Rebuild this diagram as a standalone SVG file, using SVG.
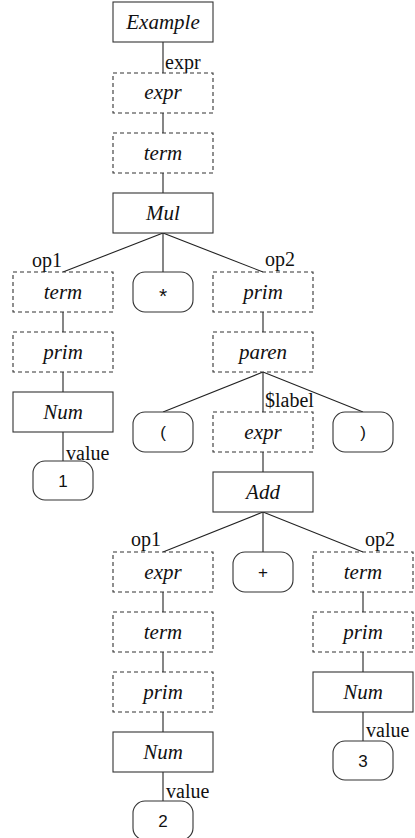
<svg xmlns="http://www.w3.org/2000/svg" width="415" height="838" viewBox="0 0 415 838">
<style>
.b{fill:#fff;stroke:#333;stroke-width:1.1}
.d{fill:#fff;stroke:#333;stroke-width:1.1;stroke-dasharray:4 3}
.t{font-family:"Liberation Serif",serif;font-style:italic;font-size:21px;text-anchor:middle;fill:#111}
.k{font-family:"Liberation Sans",sans-serif;font-size:17px;text-anchor:middle;fill:#111}
.l{font-family:"Liberation Serif",serif;font-size:20px;fill:#111}
.c line{stroke:#222;stroke-width:1.1}
</style>
<rect width="415" height="838" fill="#fff"/>
<g class="c" id="connectors">
<line x1="163" y1="42" x2="163" y2="73"/>
<line x1="163" y1="113" x2="163" y2="133"/>
<line x1="163" y1="173" x2="163" y2="193"/>
<line x1="163" y1="233" x2="63" y2="272"/>
<line x1="163" y1="233" x2="163" y2="272"/>
<line x1="163" y1="233" x2="263" y2="272"/>
<line x1="63" y1="312" x2="63" y2="332"/>
<line x1="63" y1="372" x2="63" y2="392"/>
<line x1="63" y1="432" x2="63" y2="461"/>
<line x1="263" y1="312" x2="263" y2="332"/>
<line x1="263" y1="372" x2="163" y2="412"/>
<line x1="263" y1="372" x2="263" y2="412"/>
<line x1="263" y1="372" x2="363" y2="412"/>
<line x1="263" y1="452" x2="263" y2="472"/>
<line x1="263" y1="512" x2="163" y2="552"/>
<line x1="263" y1="512" x2="263" y2="552"/>
<line x1="263" y1="512" x2="363" y2="552"/>
<line x1="163" y1="592" x2="163" y2="612"/>
<line x1="163" y1="652" x2="163" y2="672"/>
<line x1="163" y1="712" x2="163" y2="732"/>
<line x1="163" y1="772" x2="163" y2="801"/>
<line x1="363" y1="592" x2="363" y2="612"/>
<line x1="363" y1="652" x2="363" y2="672"/>
<line x1="363" y1="712" x2="363" y2="741"/>
<text class="l" x="165" y="69">expr</text>
<text class="l" x="62" y="267" text-anchor="end">op1</text>
<text class="l" x="265" y="266">op2</text>
<text class="l" x="66" y="460">value</text>
<text class="l" x="265" y="407">$label</text>
<text class="l" x="161" y="546" text-anchor="end">op1</text>
<text class="l" x="365" y="546">op2</text>
<text class="l" x="366" y="737">value</text>
<text class="l" x="166" y="798">value</text>
</g>
<g id="n-example"><rect class="b" x="113" y="2" width="100" height="40"/><text class="t" x="163" y="29">Example</text></g>
<g id="n-expr1"><rect class="d" x="113" y="73" width="100" height="40"/><text class="t" x="163" y="99">expr</text></g>
<g id="n-term1"><rect class="d" x="113" y="133" width="100" height="40"/><text class="t" x="163" y="160">term</text></g>
<g id="n-mul"><rect class="b" x="113" y="193" width="100" height="40"/><text class="t" x="163" y="220">Mul</text></g>
<g id="n-term2"><rect class="d" x="13" y="272" width="100" height="40"/><text class="t" x="63" y="299">term</text></g>
<g id="n-star"><rect class="b" x="133" y="272" width="60" height="40" rx="12"/><text class="k" x="163" y="303" style="font-size:21px">*</text></g>
<g id="n-prim1"><rect class="d" x="213" y="272" width="100" height="40"/><text class="t" x="263" y="299">prim</text></g>
<g id="n-prim2"><rect class="d" x="13" y="332" width="100" height="40"/><text class="t" x="63" y="359">prim</text></g>
<g id="n-num1"><rect class="b" x="13" y="392" width="100" height="40"/><text class="t" x="63" y="419">Num</text></g>
<g id="n-1"><rect class="b" x="33" y="461" width="60" height="39" rx="12"/><text class="k" x="63" y="487">1</text></g>
<g id="n-paren"><rect class="d" x="213" y="332" width="100" height="40"/><text class="t" x="263" y="359">paren</text></g>
<g id="n-lp"><rect class="b" x="133" y="412" width="60" height="40" rx="12"/><text class="k" x="163" y="438">(</text></g>
<g id="n-expr2"><rect class="d" x="213" y="412" width="100" height="40"/><text class="t" x="263" y="439">expr</text></g>
<g id="n-rp"><rect class="b" x="333" y="412" width="60" height="40" rx="12"/><text class="k" x="363" y="438">)</text></g>
<g id="n-add"><rect class="b" x="213" y="472" width="100" height="40"/><text class="t" x="263" y="499">Add</text></g>
<g id="n-expr3"><rect class="d" x="113" y="552" width="100" height="40"/><text class="t" x="163" y="579">expr</text></g>
<g id="n-plus"><rect class="b" x="233" y="552" width="60" height="40" rx="12"/><text class="k" x="263" y="578">+</text></g>
<g id="n-term3"><rect class="d" x="313" y="552" width="100" height="40"/><text class="t" x="363" y="579">term</text></g>
<g id="n-term4"><rect class="d" x="113" y="612" width="100" height="40"/><text class="t" x="163" y="639">term</text></g>
<g id="n-prim3"><rect class="d" x="113" y="672" width="100" height="40"/><text class="t" x="163" y="699">prim</text></g>
<g id="n-num2"><rect class="b" x="113" y="732" width="100" height="40"/><text class="t" x="163" y="759">Num</text></g>
<g id="n-2"><rect class="b" x="133" y="801" width="60" height="39" rx="12"/><text class="k" x="163" y="827">2</text></g>
<g id="n-prim4"><rect class="d" x="313" y="612" width="100" height="40"/><text class="t" x="363" y="639">prim</text></g>
<g id="n-num3"><rect class="b" x="313" y="672" width="100" height="40"/><text class="t" x="363" y="699">Num</text></g>
<g id="n-3"><rect class="b" x="333" y="741" width="60" height="39" rx="12"/><text class="k" x="363" y="767">3</text></g>
</svg>
